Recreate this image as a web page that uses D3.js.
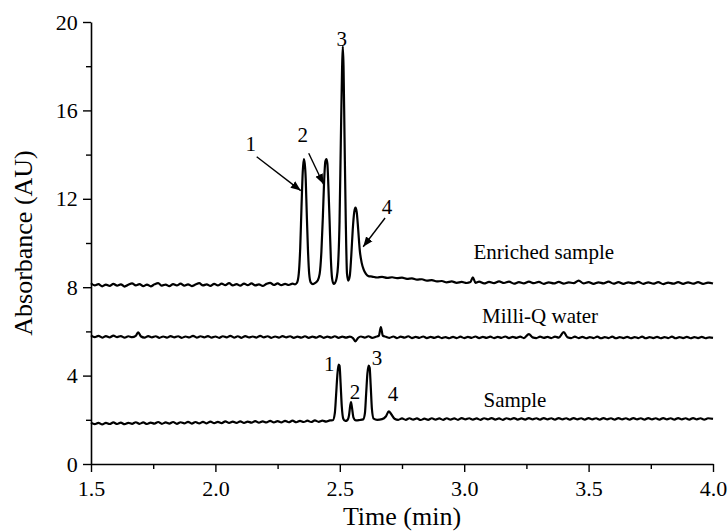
<!DOCTYPE html>
<html><head><meta charset="utf-8">
<script src="https://cdn.jsdelivr.net/npm/d3@7"></script>
<style>body{margin:0;background:#fff}svg{display:block}text{font-family:"Liberation Serif","Times New Roman",serif;fill:#000}</style>
</head><body>
<svg id="c" width="728" height="531"></svg>
<script>
const xTicks = [1.5, 2.0, 2.5, 3.0, 3.5, 4.0];
const yTicks = [0, 4, 8, 12, 16, 20];

const enriched = [
[1.50,8.18],[1.515,8.08],[1.53,8.14],[1.545,8.04],[1.56,8.12],[1.575,8.06],[1.59,8.15],[1.605,8.07],[1.62,8.13],[1.635,8.03],
[1.65,8.11],[1.665,8.17],[1.68,8.08],[1.695,8.14],[1.71,8.05],[1.725,8.12],[1.74,8.04],[1.755,8.13],[1.77,8.18],[1.785,8.07],
[1.80,8.12],[1.815,8.05],[1.83,8.14],[1.845,8.08],[1.86,8.16],[1.875,8.07],[1.89,8.13],[1.905,8.05],[1.92,8.12],[1.935,8.18],
[1.95,8.08],[1.965,8.13],[1.98,8.06],[1.995,8.15],[2.01,8.08],[2.025,8.16],[2.04,8.09],[2.055,8.18],[2.07,8.08],[2.085,8.14],
[2.10,8.07],[2.115,8.16],[2.13,8.09],[2.145,8.17],[2.16,8.08],[2.175,8.13],[2.19,8.06],[2.205,8.15],[2.22,8.20],[2.235,8.10],
[2.25,8.17],[2.265,8.09],[2.28,8.15],[2.295,8.10],[2.31,8.16],[2.32,8.13],
[2.328,8.2],[2.335,8.6],[2.341,9.8],[2.346,11.6],[2.351,13.2],[2.355,13.8],[2.359,13.6],[2.363,12.9],[2.367,11.4],[2.372,9.7],
[2.377,8.6],[2.383,8.22],[2.392,8.14],[2.402,8.2],[2.411,8.3],
[2.419,8.6],[2.426,9.6],[2.432,11.2],[2.437,12.8],[2.442,13.7],[2.446,13.8],[2.450,13.6],[2.454,12.6],[2.459,11.0],[2.464,9.3],
[2.469,8.4],[2.475,8.15],[2.481,8.2],[2.487,8.4],
[2.493,9.0],[2.499,11.0],[2.504,14.5],[2.509,17.8],[2.512,18.9],[2.515,18.0],[2.519,14.8],[2.524,11.0],[2.529,8.6],[2.534,8.3],
[2.540,8.5],[2.546,9.4],[2.552,10.6],[2.558,11.4],[2.563,11.6],[2.568,11.4],[2.574,10.6],[2.580,9.7],[2.588,9.1],[2.596,8.8],
[2.605,8.6],[2.615,8.5],[2.63,8.48],[2.65,8.44],[2.67,8.47],[2.69,8.42],[2.71,8.45],[2.73,8.41],[2.75,8.43],[2.77,8.38],
[2.79,8.40],[2.81,8.34],[2.83,8.36],[2.85,8.30],[2.87,8.32],[2.89,8.26],[2.91,8.28],[2.93,8.22],[2.95,8.26],[2.97,8.20],
[2.99,8.24],[3.01,8.19],[3.025,8.23],[3.035,8.45],[3.045,8.20],[3.06,8.25],[3.08,8.17],[3.10,8.24],[3.12,8.18],[3.14,8.26],
[3.16,8.19],[3.18,8.25],[3.20,8.16],[3.22,8.23],[3.24,8.17],[3.26,8.25],[3.28,8.18],[3.30,8.24],[3.32,8.15],[3.34,8.22],
[3.36,8.17],[3.38,8.24],[3.40,8.16],[3.42,8.22],[3.44,8.18],[3.46,8.30],[3.48,8.17],[3.50,8.23],[3.52,8.15],[3.54,8.22],
[3.56,8.17],[3.58,8.25],[3.60,8.16],[3.62,8.23],[3.64,8.15],[3.66,8.22],[3.68,8.17],[3.70,8.24],[3.72,8.15],[3.74,8.22],
[3.76,8.16],[3.78,8.23],[3.80,8.14],[3.82,8.21],[3.84,8.16],[3.86,8.23],[3.88,8.15],[3.90,8.22],[3.92,8.16],[3.94,8.23],
[3.96,8.15],[3.98,8.21],[4.00,8.17]
];

const milliQ = [
[1.50,5.82],[1.515,5.74],[1.53,5.80],[1.545,5.72],[1.56,5.79],[1.575,5.73],[1.59,5.81],[1.605,5.74],[1.62,5.79],[1.635,5.72],
[1.65,5.78],[1.665,5.74],[1.68,5.80],[1.69,5.96],[1.70,5.78],[1.715,5.72],[1.73,5.79],[1.745,5.73],[1.76,5.78],[1.775,5.71],
[1.79,5.77],[1.805,5.72],[1.82,5.79],[1.835,5.73],[1.85,5.78],[1.865,5.71],[1.88,5.77],[1.895,5.73],[1.91,5.80],[1.925,5.72],
[1.94,5.78],[1.955,5.73],[1.97,5.79],[1.985,5.72],[2.00,5.77],[2.015,5.71],[2.03,5.78],[2.045,5.73],[2.06,5.80],[2.075,5.72],
[2.09,5.78],[2.105,5.71],[2.12,5.79],[2.135,5.73],[2.15,5.77],[2.165,5.72],[2.18,5.80],[2.195,5.73],[2.21,5.78],[2.225,5.71],
[2.24,5.77],[2.255,5.72],[2.27,5.79],[2.285,5.73],[2.30,5.78],[2.315,5.71],[2.33,5.76],[2.345,5.72],[2.36,5.78],[2.375,5.71],
[2.39,5.76],[2.405,5.72],[2.42,5.79],[2.435,5.71],[2.45,5.76],[2.465,5.72],[2.48,5.78],[2.495,5.71],[2.51,5.76],[2.525,5.72],
[2.54,5.76],[2.553,5.70],[2.563,5.55],[2.573,5.70],[2.585,5.77],[2.60,5.72],[2.615,5.78],[2.63,5.71],[2.645,5.76],[2.657,5.80],
[2.665,6.20],[2.673,5.80],[2.685,5.76],[2.70,5.71],[2.715,5.77],[2.73,5.70],[2.745,5.76],[2.76,5.72],[2.775,5.78],[2.79,5.70],
[2.805,5.75],[2.82,5.71],[2.835,5.77],[2.85,5.70],[2.865,5.75],[2.88,5.71],[2.895,5.76],[2.91,5.70],[2.925,5.74],[2.94,5.69],
[2.955,5.75],[2.97,5.70],[2.985,5.76],[3.00,5.70],[3.015,5.75],[3.03,5.71],[3.045,5.77],[3.06,5.70],[3.075,5.75],[3.09,5.71],
[3.105,5.76],[3.12,5.70],[3.135,5.75],[3.15,5.71],[3.165,5.77],[3.18,5.70],[3.195,5.75],[3.21,5.71],[3.225,5.76],[3.24,5.70],
[3.26,5.88],[3.275,5.73],[3.29,5.70],[3.305,5.76],[3.32,5.71],[3.335,5.75],[3.35,5.70],[3.365,5.76],[3.38,5.72],[3.40,5.97],
[3.415,5.74],[3.43,5.70],[3.445,5.76],[3.46,5.70],[3.475,5.75],[3.49,5.69],[3.505,5.74],[3.52,5.70],[3.535,5.76],[3.55,5.69],
[3.565,5.74],[3.58,5.70],[3.595,5.76],[3.61,5.69],[3.625,5.74],[3.64,5.70],[3.655,5.75],[3.67,5.69],[3.685,5.74],[3.70,5.70],
[3.715,5.76],[3.73,5.69],[3.745,5.74],[3.76,5.70],[3.775,5.75],[3.79,5.69],[3.805,5.74],[3.82,5.70],[3.835,5.76],[3.85,5.69],
[3.865,5.74],[3.88,5.70],[3.895,5.75],[3.91,5.69],[3.925,5.74],[3.94,5.70],[3.955,5.75],[3.97,5.69],[3.985,5.73],[4.00,5.71]
];

const sample = [
[1.50,1.87],[1.515,1.80],[1.53,1.86],[1.545,1.79],[1.56,1.86],[1.575,1.81],[1.59,1.88],[1.605,1.81],[1.62,1.87],[1.635,1.80],
[1.65,1.86],[1.665,1.82],[1.68,1.89],[1.695,1.82],[1.71,1.88],[1.725,1.81],[1.74,1.87],[1.755,1.83],[1.77,1.90],[1.785,1.82],
[1.80,1.88],[1.815,1.83],[1.83,1.90],[1.845,1.82],[1.86,1.89],[1.875,1.84],[1.89,1.91],[1.905,1.83],[1.92,1.90],[1.935,1.84],
[1.95,1.91],[1.965,1.84],[1.98,1.92],[1.995,1.85],[2.01,1.91],[2.025,1.85],[2.04,1.93],[2.055,1.86],[2.07,1.92],[2.085,1.86],
[2.10,1.93],[2.115,1.86],[2.13,1.92],[2.145,1.87],[2.16,1.94],[2.175,1.87],[2.19,1.93],[2.205,1.88],[2.22,1.95],[2.235,1.88],
[2.25,1.94],[2.265,1.88],[2.28,1.95],[2.295,1.89],[2.31,1.96],[2.325,1.89],[2.34,1.95],[2.355,1.90],[2.37,1.96],[2.385,1.90],
[2.40,1.97],[2.415,1.91],[2.43,1.96],[2.445,1.92],[2.46,1.97],[2.472,1.98],
[2.480,2.3],[2.485,3.1],[2.490,4.0],[2.495,4.5],[2.499,4.45],[2.503,3.7],[2.508,2.6],[2.514,2.05],[2.522,1.95],[2.530,1.98],
[2.537,2.2],[2.542,2.65],[2.545,2.8],[2.549,2.55],[2.555,2.1],[2.565,1.97],[2.580,1.99],[2.594,2.02],
[2.601,2.3],[2.606,3.2],[2.611,4.1],[2.616,4.45],[2.620,4.35],[2.624,3.6],[2.629,2.5],[2.636,2.05],
[2.650,2.0],[2.670,2.03],[2.685,2.15],[2.697,2.38],[2.707,2.25],[2.72,2.05],[2.735,2.00],[2.75,2.06],[2.765,2.00],[2.78,2.07],
[2.795,2.01],[2.81,2.06],[2.825,1.99],[2.84,2.05],[2.855,2.00],[2.87,2.07],[2.885,2.01],[2.90,2.06],[2.915,2.00],[2.93,2.07],
[2.945,2.01],[2.96,2.06],[2.975,2.00],[2.99,2.08],[3.005,2.02],[3.02,2.07],[3.035,2.01],[3.05,2.06],[3.065,2.00],[3.08,2.07],
[3.095,2.02],[3.11,2.08],[3.125,2.01],[3.14,2.06],[3.155,2.00],[3.17,2.07],[3.185,2.02],[3.20,2.08],[3.215,2.01],[3.23,2.06],
[3.245,2.01],[3.26,2.08],[3.275,2.02],[3.29,2.07],[3.305,2.01],[3.32,2.08],[3.335,2.02],[3.35,2.07],[3.365,2.01],[3.38,2.08],
[3.395,2.02],[3.41,2.07],[3.425,2.01],[3.44,2.08],[3.455,2.02],[3.47,2.07],[3.485,2.01],[3.50,2.08],[3.515,2.02],[3.53,2.07],
[3.545,2.01],[3.56,2.08],[3.575,2.02],[3.59,2.07],[3.605,2.01],[3.62,2.08],[3.635,2.02],[3.65,2.07],[3.665,2.01],[3.68,2.08],
[3.695,2.02],[3.71,2.07],[3.725,2.01],[3.74,2.08],[3.755,2.02],[3.77,2.07],[3.785,2.01],[3.80,2.08],[3.815,2.02],[3.83,2.07],
[3.845,2.01],[3.86,2.08],[3.875,2.02],[3.89,2.07],[3.905,2.01],[3.92,2.08],[3.935,2.02],[3.95,2.07],[3.965,2.01],[3.98,2.07],
[4.00,2.04]
];

const peakLabels = [
  {text:"1", t:2.142, a:14.5}, {text:"2", t:2.351, a:14.9}, {text:"3", t:2.508, a:19.26}, {text:"4", t:2.690, a:11.64},
  {text:"1", t:2.458, a:4.56}, {text:"2", t:2.561, a:3.26}, {text:"3", t:2.650, a:4.80}, {text:"4", t:2.714, a:3.17}
];
const arrows = [
  {t1:2.166, a1:13.9, t2:2.343, a2:12.37},
  {t1:2.375, a1:14.06, t2:2.434, a2:12.67},
  {t1:2.682, a1:11.13, t2:2.594, a2:9.83}
];
const traceLabels = [
  {text:"Enriched sample", t:3.32, a:9.6},
  {text:"Milli-Q water", t:3.305, a:6.7},
  {text:"Sample", t:3.204, a:2.9}
];

const svg = d3.select("#c");
const m = {l:91, r:15, t:22, b:67};
const W = 728, H = 531;
const x = d3.scaleLinear().domain([1.5, 4.0]).range([m.l, W - m.r]);
const y = d3.scaleLinear().domain([0, 20]).range([H - m.b, m.t]);

svg.append("defs").append("marker")
  .attr("id","ah").attr("viewBox","0 0 10 10").attr("refX",10).attr("refY",5)
  .attr("markerWidth",10).attr("markerHeight",10).attr("markerUnits","userSpaceOnUse").attr("orient","auto")
  .append("path").attr("d","M0,1 L10,5 L0,9 Z").attr("fill","#000");

// axes
const xAxis = d3.axisBottom(x).tickValues(xTicks).tickFormat(d3.format(".1f")).tickSize(8).tickSizeOuter(0);
const gx = svg.append("g").attr("transform",`translate(0,${y(0)})`).call(xAxis);
const xMinor = d3.axisBottom(x).tickValues([1.75,2.25,2.75,3.25,3.75]).tickFormat("").tickSize(5).tickSizeOuter(0);
svg.append("g").attr("transform",`translate(0,${y(0)})`).call(xMinor).select(".domain").remove();
const yAxis = d3.axisLeft(y).tickValues(yTicks).tickFormat(d3.format("d")).tickSize(8).tickSizeOuter(0);
const gy = svg.append("g").attr("transform",`translate(${x(1.5)},0)`).call(yAxis);
const yMinor = d3.axisLeft(y).tickValues([2,6,10,14,18]).tickFormat("").tickSize(5).tickSizeOuter(0);
svg.append("g").attr("transform",`translate(${x(1.5)},0)`).call(yMinor).select(".domain").remove();

svg.selectAll(".domain").attr("stroke","#000").attr("stroke-width",1.6);
svg.selectAll(".tick line").attr("stroke","#000").attr("stroke-width",1.4);
gx.selectAll("text").attr("font-size",22).attr("dy","0.95em").attr("font-family","Liberation Serif");
gy.selectAll("text").attr("font-size",22).attr("dx","-0.1em").attr("font-family","Liberation Serif");

svg.append("text").attr("x",(x(1.5)+x(4.0))/2).attr("y",H-6).attr("text-anchor","middle")
  .attr("font-size",26).text("Time (min)");
svg.append("text").attr("transform",`translate(32,${(y(0)+y(20))/2}) rotate(-90)`).attr("text-anchor","middle")
  .attr("font-size",26).text("Absorbance (AU)");

// traces
const line = d3.line().x(d=>x(d[0])).y(d=>y(d[1])).curve(d3.curveMonotoneX);
[enriched, milliQ, sample].forEach(s => {
  svg.append("path").datum(s).attr("d",line).attr("fill","none").attr("stroke","#000")
    .attr("stroke-width",2.2).attr("stroke-linejoin","round");
});

// arrows
svg.selectAll(".arr").data(arrows).join("line").attr("class","arr")
  .attr("x1",d=>x(d.t1)).attr("y1",d=>y(d.a1)).attr("x2",d=>x(d.t2)).attr("y2",d=>y(d.a2))
  .attr("stroke","#000").attr("stroke-width",1.4).attr("marker-end","url(#ah)");

svg.selectAll(".pl").data(peakLabels).join("text").attr("class","pl")
  .attr("x",d=>x(d.t)).attr("y",d=>y(d.a)).attr("dy","0.35em").attr("text-anchor","middle")
  .attr("font-size",21).text(d=>d.text);

svg.selectAll(".tl").data(traceLabels).join("text").attr("class","tl")
  .attr("x",d=>x(d.t)).attr("y",d=>y(d.a)).attr("dy","0.35em").attr("text-anchor","middle")
  .attr("font-size",21).text(d=>d.text);
</script>
</body></html>
